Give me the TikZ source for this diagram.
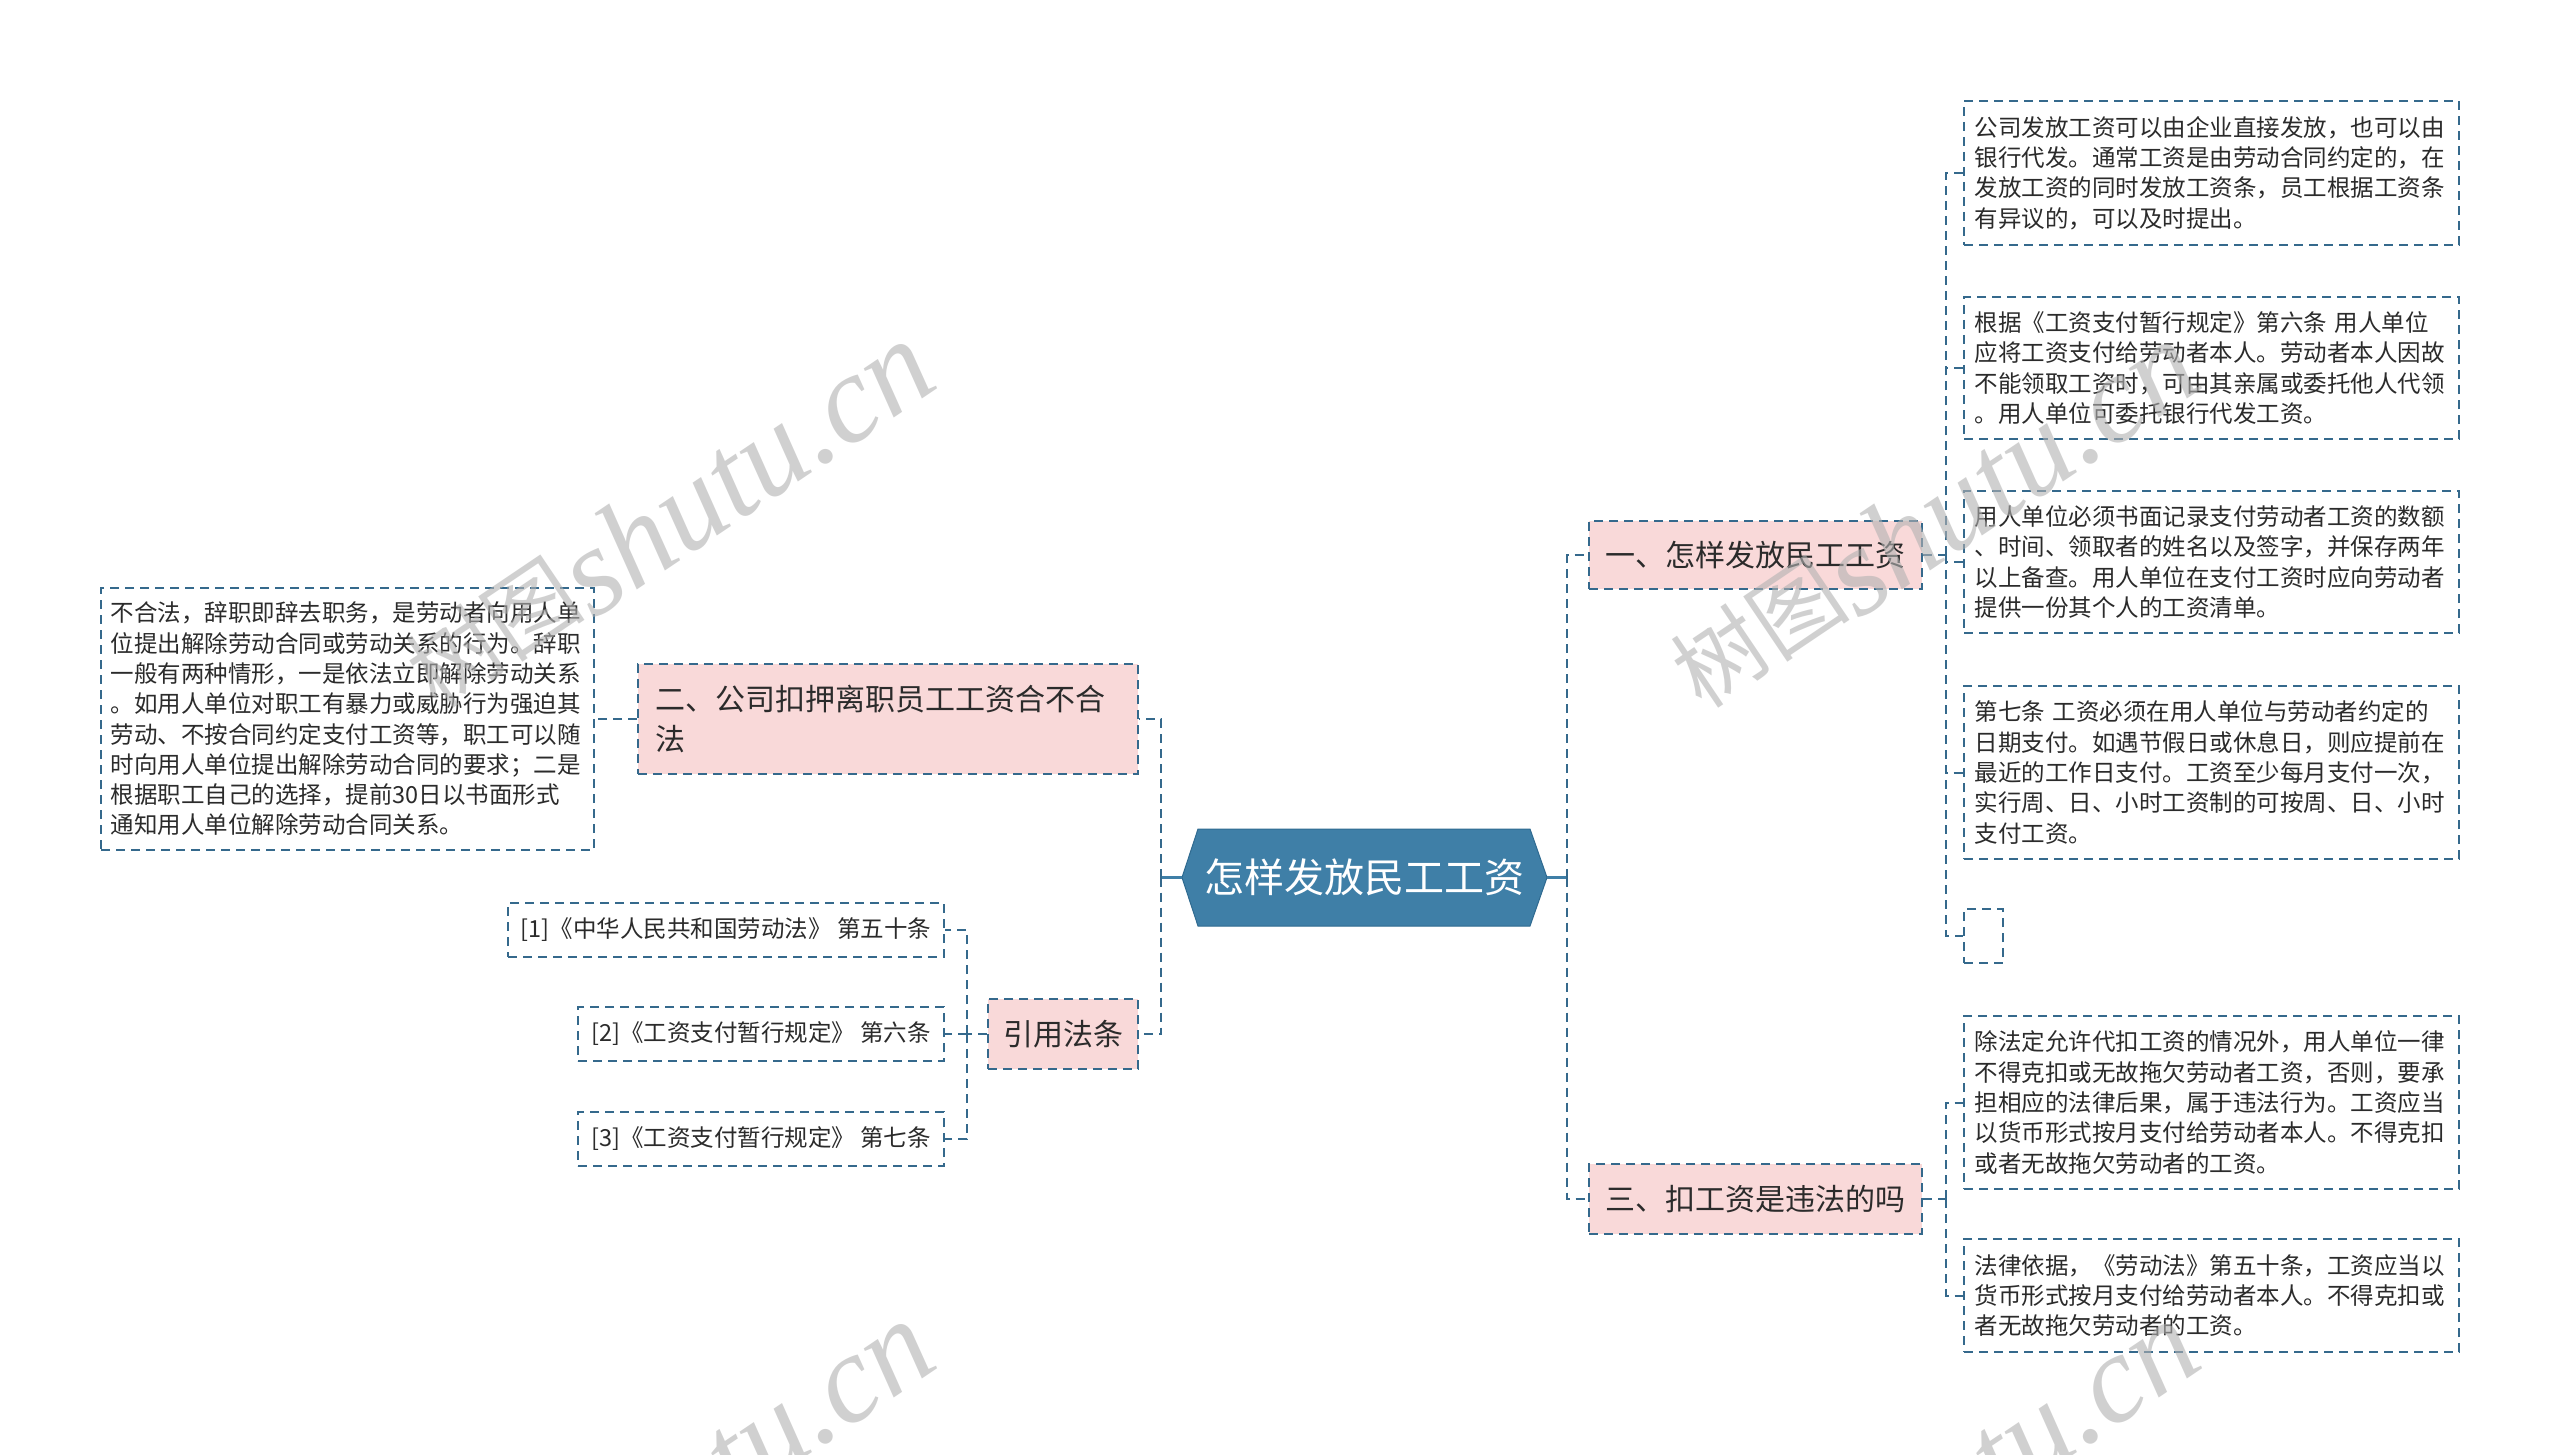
\documentclass[tikz,border=0pt]{standalone}
\usepackage{fontspec}
\setmainfont{Noto Sans CJK SC}
\newfontfamily\wmlatin{Liberation Serif}
\usetikzlibrary{calc}
\definecolor{lineblue}{HTML}{35698C}
\definecolor{pinkfill}{HTML}{F9D9D9}
\definecolor{rootfill}{HTML}{3F7FA7}
\definecolor{rootdraw}{HTML}{2F6A90}
\definecolor{txt}{HTML}{2B2B2B}
\newcommand{\wmtext}{\raisebox{12pt}{\fontsize{90}{90}\selectfont 树图}{\wmlatin\itshape\fontsize{125}{125}\selectfont shutu.cn}}
\begin{document}
\begin{tikzpicture}[x=1pt,y=-1pt,
  dashline/.style={draw=lineblue, line width=2pt, dash pattern=on 9pt off 6pt},
  conn/.style={dashline},
  solidconn/.style={draw=rootfill, line width=2.5pt},
  leafbox/.style={dashline, text=txt, font=\fontsize{23.5}{30.3}\selectfont, align=left, inner sep=0pt, anchor=center, text width=474pt, minimum width=495pt},
  refbox/.style={dashline, text=txt, font=\fontsize{23.5}{30.3}\selectfont, inner sep=0pt, anchor=center, minimum height=54pt},
  branchbox/.style={dashline, fill=pinkfill, text=txt, font=\fontsize{30}{40}\selectfont, inner sep=0pt, anchor=center},
  wm/.style={text=black!30, text opacity=0.6, inner sep=0pt, anchor=base east, rotate=34}
]
\useasboundingbox (0,0) rectangle (2560,1455);
\fill[white] (0,0) rectangle (2560,1455);

% root
\fill[rootfill] (1182,877.5) -- (1198,829) -- (1530,829) -- (1547,877.5) -- (1530,926) -- (1198,926) -- cycle;
\draw[rootdraw, line width=1pt] (1182,877.5) -- (1198,829) -- (1530,829) -- (1547,877.5) -- (1530,926) -- (1198,926) -- cycle;
\node[inner sep=0pt, minimum width=365pt, minimum height=97pt, text=white, font=\fontsize{40}{40}\selectfont] (root) at (1364.5,877.5) {怎样发放民工工资};

% branches
\node[branchbox, minimum width=333pt, minimum height=68pt] (b1) at (1755.5,555) {一、怎样发放民工工资};
\node[branchbox, minimum width=333pt, minimum height=70pt] (b3) at (1755.5,1199) {三、扣工资是违法的吗};
\node[branchbox, minimum width=500pt, minimum height=110pt, text width=466pt, align=left] (b2) at (888,719) {二、公司扣押离职员工工资合不合\\法};
\node[branchbox, minimum width=150pt, minimum height=70pt] (yy) at (1063,1034) {引用法条};

% right leaves
\node[leafbox, minimum height=144pt] (r1) at (2211.5,173) {公司发放工资可以由企业直接发放，也可以由\\银行代发。通常工资是由劳动合同约定的，在\\发放工资的同时发放工资条，员工根据工资条\\有异议的，可以及时提出。};
\node[leafbox, minimum height=142pt] (r2) at (2211.5,368) {根据《工资支付暂行规定》第六条 用人单位\\应将工资支付给劳动者本人。劳动者本人因故\\不能领取工资时，可由其亲属或委托他人代领\\。用人单位可委托银行代发工资。};
\node[leafbox, minimum height=142pt] (r3) at (2211.5,562) {用人单位必须书面记录支付劳动者工资的数额\\、时间、领取者的姓名以及签字，并保存两年\\以上备查。用人单位在支付工资时应向劳动者\\提供一份其个人的工资清单。};
\node[leafbox, minimum height=173pt] (r4) at (2211.5,772.5) {第七条 工资必须在用人单位与劳动者约定的\\日期支付。如遇节假日或休息日，则应提前在\\最近的工作日支付。工资至少每月支付一次，\\实行周、日、小时工资制的可按周、日、小时\\支付工资。};
\node[dashline, inner sep=0pt, minimum width=39pt, minimum height=54pt] (r5) at (1983.5,936) {};
\node[leafbox, minimum height=173pt] (r6) at (2211.5,1102.5) {除法定允许代扣工资的情况外，用人单位一律\\不得克扣或无故拖欠劳动者工资，否则，要承\\担相应的法律后果，属于违法行为。工资应当\\以货币形式按月支付给劳动者本人。不得克扣\\或者无故拖欠劳动者的工资。};
\node[leafbox, minimum height=113pt] (r7) at (2211.5,1295.5) {法律依据，《劳动法》第五十条，工资应当以\\货币形式按月支付给劳动者本人。不得克扣或\\者无故拖欠劳动者的工资。};

% left leaf
\node[leafbox, minimum width=493pt, minimum height=262pt] (l1) at (347.5,719) {不合法，辞职即辞去职务，是劳动者向用人单\\位提出解除劳动合同或劳动关系的行为。辞职\\一般有两种情形，一是依法立即解除劳动关系\\。如用人单位对职工有暴力或威胁行为强迫其\\劳动、不按合同约定支付工资等，职工可以随\\时向用人单位提出解除劳动合同的要求；二是\\根据职工自己的选择，提前30日以书面形式\\通知用人单位解除劳动合同关系。};

% refs
\node[refbox, minimum width=436pt] (f1) at (726,930) {[1]《中华人民共和国劳动法》 第五十条};
\node[refbox, minimum width=366pt] (f2) at (761,1034) {[2]《工资支付暂行规定》 第六条};
\node[refbox, minimum width=366pt] (f3) at (761,1139) {[3]《工资支付暂行规定》 第七条};

% connectors
\coordinate (tR) at (1567,877.5);
\coordinate (tL) at (1161,877.5);
\draw[solidconn] (root.east) -- (tR);
\draw[solidconn] (root.west) -- (tL);
\draw[conn] (tR) |- (b1.west);
\draw[conn] (tR) |- (b3.west);
\draw[conn] (tL) |- (b2.east);
\draw[conn] (tL) |- (yy.east);

\coordinate (s1) at (1946,555);
\draw[conn] (b1.east) -- (s1);
\foreach \n in {r1,r2,r3,r4,r5} \draw[conn] (s1) |- (\n.west);
\coordinate (s3) at (1946,1199);
\draw[conn] (b3.east) -- (s3);
\foreach \n in {r6,r7} \draw[conn] (s3) |- (\n.west);
\draw[conn] (b2.west) -- (l1.east);
\coordinate (s4) at (967,1034);
\draw[conn] (yy.west) -- (s4);
\foreach \n in {f1,f2,f3} \draw[conn] (s4) |- (\n.east);

% watermarks
\begin{scope}
\clip (0,0) rectangle (2560,1455);
\node[wm] (wm1) at (942,385) {\wmtext};
\node[wm] (wm2) at (2207,385) {\wmtext};
\node[wm] (wm3) at (942,1365) {\wmtext};
\node[wm] (wm4) at (2207,1365) {\wmtext};
\end{scope}
\end{tikzpicture}
\end{document}
